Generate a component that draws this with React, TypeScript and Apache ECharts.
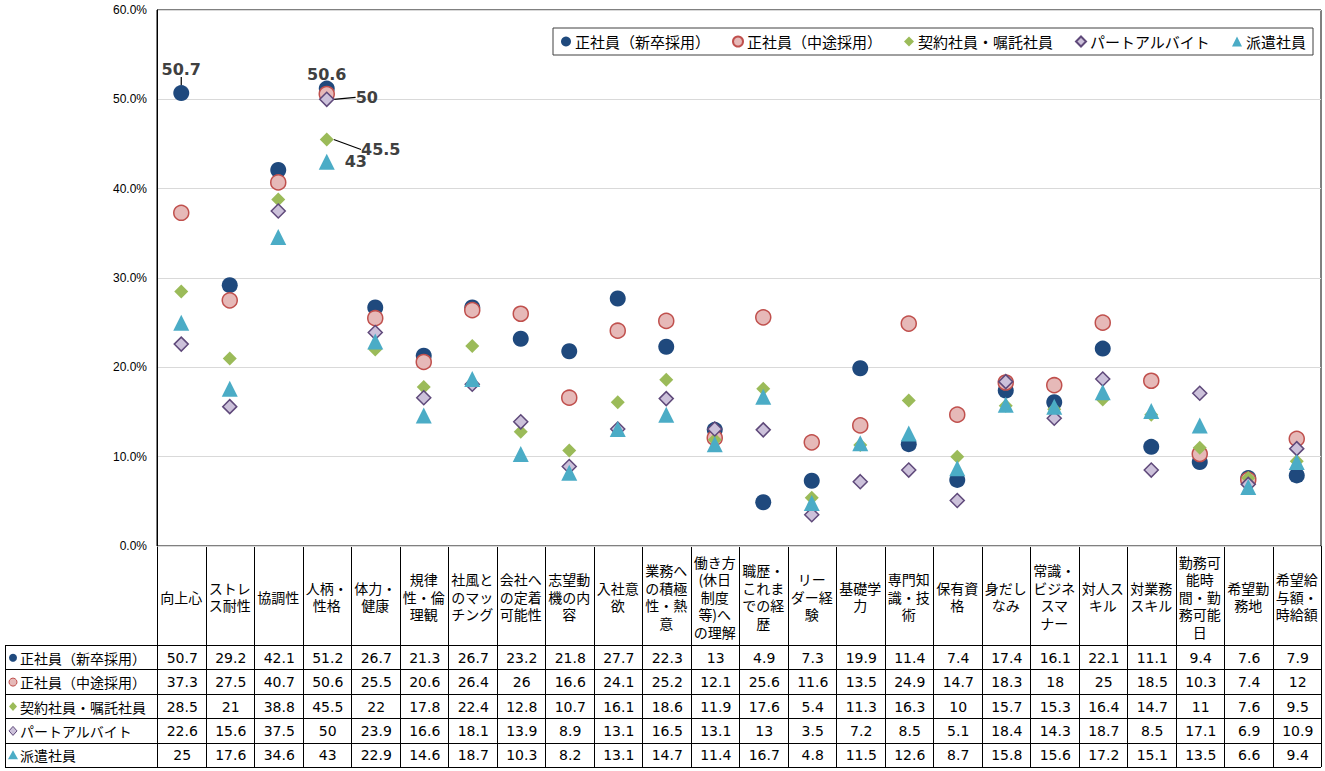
import React, { useEffect, useRef } from "react";
import * as echarts from "echarts";

const categories = [
  "向上心", "ストレ\nス耐性", "協調性", "人柄・\n性格", "体力・\n健康", "規律\n性・倫\n理観",
  "社風と\nのマッ\nチング", "会社へ\nの定着\n可能性", "志望動\n機の内\n容", "入社意\n欲",
  "業務へ\nの積極\n性・熱\n意", "働き方\n(休日\n制度\n等)へ\nの理解", "職歴・\nこれま\nでの経\n歴",
  "リー\nダー経\n験", "基礎学\n力", "専門知\n識・技\n術", "保有資\n格", "身だし\nなみ",
  "常識・\nビジネ\nスマ\nナー", "対人ス\nキル", "対業務\nスキル", "勤務可\n能時\n間・勤\n務可能\n日",
  "希望勤\n務地", "希望給\n与額・\n時給額",
];

const seriesNames = ["正社員（新卒採用）", "正社員（中途採用）", "契約社員・嘱託社員", "パートアルバイト", "派遣社員"];

const shinsotsu = [50.7, 29.2, 42.1, 51.2, 26.7, 21.3, 26.7, 23.2, 21.8, 27.7, 22.3, 13, 4.9, 7.3, 19.9, 11.4, 7.4, 17.4, 16.1, 22.1, 11.1, 9.4, 7.6, 7.9];
const chuto = [37.3, 27.5, 40.7, 50.6, 25.5, 20.6, 26.4, 26, 16.6, 24.1, 25.2, 12.1, 25.6, 11.6, 13.5, 24.9, 14.7, 18.3, 18, 25, 18.5, 10.3, 7.4, 12];
const keiyaku = [28.5, 21, 38.8, 45.5, 22, 17.8, 22.4, 12.8, 10.7, 16.1, 18.6, 11.9, 17.6, 5.4, 11.3, 16.3, 10, 15.7, 15.3, 16.4, 14.7, 11, 7.6, 9.5];
const part = [22.6, 15.6, 37.5, 50, 23.9, 16.6, 18.1, 13.9, 8.9, 13.1, 16.5, 13.1, 13, 3.5, 7.2, 8.5, 5.1, 18.4, 14.3, 18.7, 8.5, 17.1, 6.9, 10.9];
const haken = [25, 17.6, 34.6, 43, 22.9, 14.6, 18.7, 10.3, 8.2, 13.1, 14.7, 11.4, 16.7, 4.8, 11.5, 12.6, 8.7, 15.8, 15.6, 17.2, 15.1, 13.5, 6.6, 9.4];

const allSeries = [shinsotsu, chuto, keiyaku, part, haken];

// which data points carry a data label (series index -> data index)
const labelled: Record<number, number[]> = { 0: [0], 1: [3], 2: [3], 3: [3], 4: [3] };

const Y_MIN = 0;
const Y_MAX = 60;
const Y_INTERVAL = 10;

const styles = [
  { symbol: "circle", size: 16, color: "#1F497D", border: "#1F497D", bw: 0 },
  { symbol: "circle", size: 15, color: "#E6B9B8", border: "#C0504D", bw: 1.5 },
  { symbol: "diamond", size: 14, color: "#9BBB59", border: "#9BBB59", bw: 0 },
  { symbol: "diamond", size: 14, color: "#CCC1DA", border: "#5F497A", bw: 1.5 },
  { symbol: "triangle", size: 16, color: "#4BACC6", border: "#4BACC6", bw: 0 },
];

// label offsets (dx, dy) and whether a leader line is drawn
const labelOffsets: Record<number, { dx: number; dy: number; line: boolean }> = {
  0: { dx: 0, dy: -24, line: true },
  1: { dx: 0, dy: -19, line: false },
  2: { dx: 54, dy: 10, line: true },
  3: { dx: 40, dy: -2, line: true },
  4: { dx: 29, dy: 0, line: false },
};

const GL = 157;
const GR = 1321;
const GT = 10;
const GB = 546;
const HEAD_B = 645;
const ROW_H = 24.4;
const TBL_L = 5;

const JP = '"Noto Sans CJK JP", sans-serif';
const NUM = '"DejaVu Sans", "Noto Sans CJK JP", sans-serif';

function buildTable(): any[] {
  const els: any[] = [];
  const n = categories.length;
  const colW = (GR - GL) / n;
  const bottom = HEAD_B + ROW_H * allSeries.length;
  const line = (x1: number, y1: number, x2: number, y2: number) => ({
    type: "line",
    silent: true,
    shape: { x1, y1, x2, y2 },
    style: { stroke: "#000", lineWidth: 1 },
  });
  // vertical lines
  for (let i = 0; i <= n; i++) {
    const x = Math.round(GL + i * colW) + 0.5;
    els.push(line(x, GB, x, bottom));
  }
  els.push(line(TBL_L + 0.5, HEAD_B, TBL_L + 0.5, bottom));
  // horizontal lines
  for (let r = 0; r <= allSeries.length; r++) {
    const y = Math.round(HEAD_B + r * ROW_H) + 0.5;
    els.push(line(TBL_L, y, GR, y));
  }
  // header texts
  categories.forEach((c, i) => {
    els.push({
      type: "text",
      silent: true,
      style: {
        text: c,
        x: GL + (i + 0.5) * colW,
        y: (GB + HEAD_B) / 2 + 1,
        align: "center",
        verticalAlign: "middle",
        fontSize: 14,
        fontFamily: JP,
        lineHeight: 17.5,
        fill: "#000",
      },
    });
  });
  // rows
  allSeries.forEach((vals, r) => {
    const cy = HEAD_B + (r + 0.5) * ROW_H + 0.5;
    const st = styles[r];
    const ix = 13;
    if (st.symbol === "circle") {
      els.push({ type: "circle", silent: true, shape: { cx: ix, cy, r: 4 }, style: { fill: st.color, stroke: st.border, lineWidth: st.bw ? 1 : 0 } });
    } else if (st.symbol === "diamond") {
      els.push({ type: "polygon", silent: true, shape: { points: [[ix, cy - 4.5], [ix + 4, cy], [ix, cy + 4.5], [ix - 4, cy]] }, style: { fill: st.color, stroke: st.border, lineWidth: st.bw ? 1 : 0 } });
    } else {
      els.push({ type: "polygon", silent: true, shape: { points: [[ix, cy - 5], [ix + 5, cy + 4], [ix - 5, cy + 4]] }, style: { fill: st.color } });
    }
    els.push({
      type: "text",
      silent: true,
      style: { text: seriesNames[r], x: 20, y: cy, align: "left", verticalAlign: "middle", fontSize: 14, fontFamily: JP, fill: "#000" },
    });
    vals.forEach((v, i) => {
      els.push({
        type: "text",
        silent: true,
        style: {
          text: String(v),
          x: GL + (i + 0.5) * colW + 1,
          y: cy,
          align: "center",
          verticalAlign: "middle",
          fontSize: 14,
          fontFamily: NUM,
          fill: "#000",
        },
      });
    });
  });
  return els;
}

export default function App() {
  const ref = useRef<HTMLDivElement>(null);
  useEffect(() => {
    const chart = echarts.init(ref.current!, null, { renderer: "svg" });
    const series = allSeries.map((vals, s) => {
      const st = styles[s];
      const off = labelOffsets[s];
      return {
        name: seriesNames[s],
        type: "scatter",
        symbol: st.symbol,
        symbolSize: st.size,
        itemStyle: { color: st.color, borderColor: st.border, borderWidth: st.bw, opacity: 1 },
        data: vals.map((v, i) =>
          labelled[s].includes(i)
            ? {
                value: v,
                label: {
                  show: true,
                  position: "inside",
                  formatter: "{c}",
                  color: "#404040",
                  fontSize: 16,
                  fontWeight: "bold",
                  fontFamily: NUM,
                },
                labelLine: { show: off.line, lineStyle: { color: "#000", width: 1.2 } },
              }
            : v
        ),
        labelLayout: (p: any) => (labelled[s].includes(p.dataIndex) ? { dx: off.dx, dy: off.dy } : {}),
        labelLine: { show: off.line, lineStyle: { color: "#000", width: 1.2 } },
        emphasis: { disabled: true },
        z: 2 + s,
      };
    });
    chart.setOption({
      animation: false,
      backgroundColor: "#fff",
      grid: { left: GL, right: 1325 - GR, top: GT, bottom: 771 - GB, show: true, borderColor: "#000", borderWidth: 1 },
      legend: {
        data: seriesNames,
        left: 553,
        top: 28,
        padding: [6, 7, 6, 8],
        itemGap: 22,
        itemWidth: 10,
        itemHeight: 10,
        borderColor: "#404040",
        borderWidth: 1,
        backgroundColor: "#fff",
        textStyle: { fontSize: 15, fontFamily: JP, color: "#000", padding: [0, 0, 0, -1] },
        selectedMode: false,
      },
      xAxis: {
        type: "category",
        data: categories,
        boundaryGap: true,
        axisLine: { show: false },
        axisTick: { show: false },
        axisLabel: { show: false },
        splitLine: { show: false },
      },
      yAxis: {
        type: "value",
        min: Y_MIN,
        max: Y_MAX,
        interval: Y_INTERVAL,
        axisLine: { show: true, lineStyle: { color: "#000", width: 1 } },
        axisTick: { show: false },
        axisLabel: {
          color: "#000",
          fontSize: 12,
          fontFamily: '"Liberation Sans", Arial, sans-serif',
          margin: 10,
          formatter: (v: number) => v.toFixed(1) + "%",
        },
        splitLine: { show: true, lineStyle: { color: "#d9d9d9", width: 1 } },
      },
      series,
      graphic: buildTable(),
    });
    return () => chart.dispose();
  }, []);
  return <div ref={ref} style={{ position: "absolute", left: 0, top: 0, width: 1325, height: 771 }} />;
}
